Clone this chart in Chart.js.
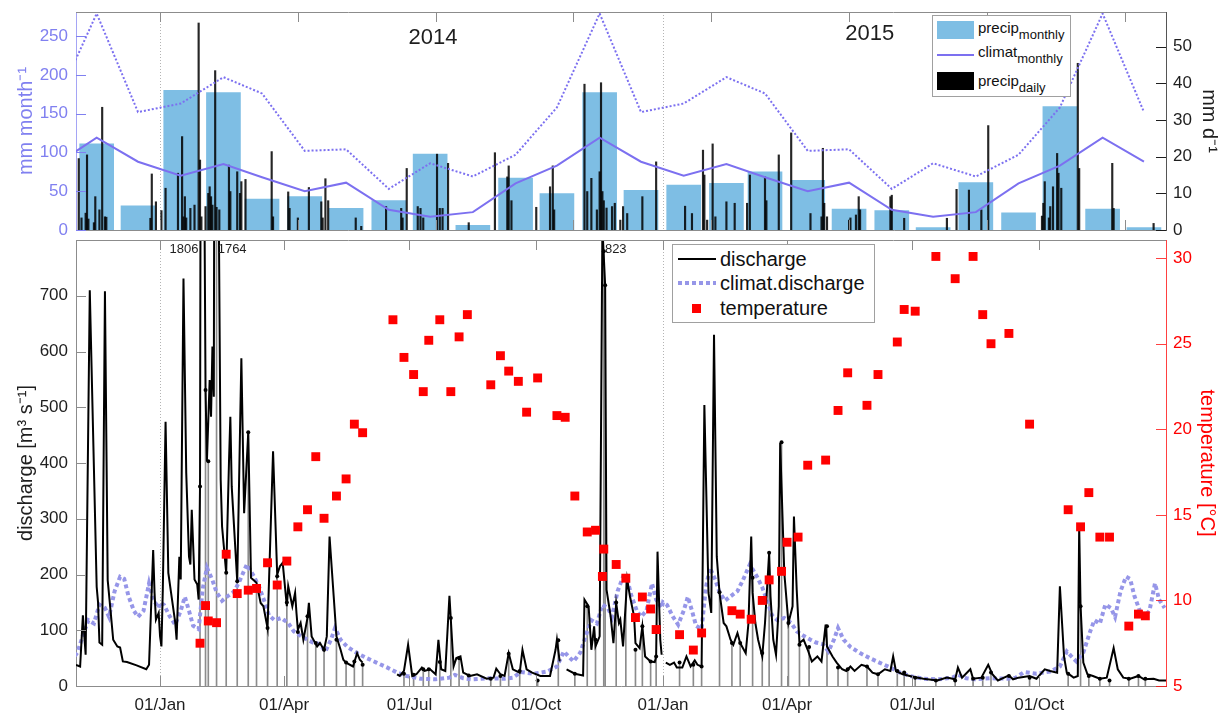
<!DOCTYPE html>
<html>
<head>
<meta charset="utf-8">
<script src="https://cdn.jsdelivr.net/npm/chart.js@4.4.1/dist/chart.umd.min.js"></script>
<style>
  body { margin: 0; background: #fff; font-family: "Liberation Sans", Arial, Helvetica, sans-serif; }
  #page { position: relative; width: 1224px; height: 713px; overflow: hidden; }
  canvas { position: absolute; left: 0; }
  .legend { position: absolute; background: #fff; border: 1px solid #a0a0a0; box-sizing: border-box; color: #111; }
  .legend .sw { position: absolute; display: block; }
  .legend .tx { position: absolute; white-space: nowrap; }
  #precipLegend .tx { font-size: 15px; line-height: 15px; left: 45px; }
  #precipLegend sub { font-size: 13px; vertical-align: -6px; line-height: 0; }
  #flowLegend .tx { font-size: 20px; line-height: 20px; left: 47px; }
</style>
</head>
<body>
<div id="page">
  <canvas id="precipChart" width="1224" height="245" style="top:0"></canvas>
  <canvas id="flowChart" width="1224" height="485" style="top:228px"></canvas>

  <div class="legend" id="precipLegend" style="left:932px;top:15px;width:139px;height:82px">
    <span class="sw" style="left:4px;top:5px;width:37px;height:18px;background:rgb(126,190,228)"></span>
    <span class="sw" style="left:4px;top:38px;width:37px;height:2px;background:rgb(124,112,240)"></span>
    <span class="sw" style="left:4px;top:56px;width:37px;height:18px;background:#000"></span>
    <div class="tx" style="top:4px">precip<sub>monthly</sub></div>
    <div class="tx" style="top:28px">climat<sub>monthly</sub></div>
    <div class="tx" style="top:57px">precip<sub>daily</sub></div>
  </div>

  <div class="legend" id="flowLegend" style="left:672px;top:244px;width:203px;height:79px">
    <span class="sw" style="left:5px;top:13px;width:38px;height:2px;background:#000"></span>
    <span class="sw" style="left:5px;top:36px;width:38px;height:4px;background:repeating-linear-gradient(90deg, rgb(150,150,232) 0 4px, transparent 4px 7px)"></span>
    <span class="sw" style="left:19px;top:59px;width:9px;height:9px;background:#ff0000"></span>
    <div class="tx" style="top:4px">discharge</div>
    <div class="tx" style="top:28px">climat.discharge</div>
    <div class="tx" style="top:53px">temperature</div>
  </div>
</div>

<script>
// days are counted from 01/Jan/2014
const dayOf = (y, m, d) => (Date.UTC(y, m, d) - Date.UTC(2014, 0, 1)) / 864e5;

// ---- top panel data ----
// monthly precipitation, Nov 2013 .. Dec 2015 (mm/month)
const precipMonthly = [111, 31, 180, 177, 40, 43, 28, 38, 98, 6, 67, 47, 177, 51,
                       58, 60, 75, 64, 27, 25, 3, 61, 22, 159, 27, 3];
// monthly climatology Jan..Dec (mean and upper line)
const climatMonthly = [70, 85, 68, 50, 61, 26, 17, 23, 60, 83, 119, 88];
const climatHigh = [163, 197, 176, 102, 104, 53, 86, 69, 97, 158, 279, 152];
// daily precipitation [day, mm/d] (days without rain left out)
const precipDaily = [
  [-59,19.5],[-57,3.3],[-54,4.6],[-53,20.5],[-52,3],[-48,2],[-47,9.1],[-44,5.5],[-42,33.5],[-40,3.6],[-39,3.5],
  [-7,3.2],[-6,15.3],[-3,7.7],[1,5.3],[4,11.4],[13,15.5],[16,25.5],[17,3.6],[18,9.1],[19,3.3],[22,5.9],[25,6.8],
  [28,56.5],[29,19.1],[30,3.6],[33,6.4],[35,10],[36,11.8],[37,9.1],[38,6.8],[40,43.5],[41,6.2],[43,5.5],[50,17.7],
  [51,10.5],[56,15.9],[58,10],[59,13.2],[62,13.8],[81,21.4],[82,3.6],[93,10.4],[94,5.9],[100,3.3],[108,11.6],
  [117,7.7],[118,3.3],[120,14],[122,8],[142,3.3],[146,1],[164,6.4],[175,5.9],[176,3.3],[179,16.8],[187,6.4],
  [189,5.9],[191,3.3],[201,20.7],[203,5.9],[205,5.9],[209,18.2],[224,2],[243,21.1],[252,14.5],[253,17.5],[255,8],
  [273,6.2],[283,11.8],[285,17.5],[286,5.5],[308,39.8],[310,10.5],[313,14.1],[317,5.5],[319,15.9],[320,40.2],
  [321,10.5],[322,8],[324,6],[328,6.4],[330,7.3],[334,2.7],[336,6.4],[339,4.5],[350,9.1],[360,18.6],[381,6.5],
  [386,4.5],[394,21.8],[395,15],[397,2.7],[401,23.5],[403,3.6],[411,7.7],[417,7.3],[426,7.3],[428,15],[439,14.5],
  [440,8],[449,20.5],[458,26.5],[472,4.5],[480,3.6],[481,22.3],[482,7.3],[484,3.6],[500,2.7],[501,3.3],[505,4.1],
  [507,9.1],[508,5.5],[530,9.1],[531,9.5],[540,3.2],[571,3.2],[578,11.1],[587,10.9],[596,5.5],[601,28.5],
  [640,3.8],[641,7.3],[642,13.2],[645,3.3],[646,6.4],[648,11.8],[651,20.9],[652,15.5],[654,11.4],[666,45.5],
  [667,16.8],[691,18.2],[692,5.9],[721,1.8]
];
const mmMonthTicks = [0, 50, 100, 150, 200, 250];
const mmDayTicks = [0, 10, 20, 30, 40, 50];
const precipXTicks = [0, 100, 200, 300, 400, 500, 600, 700];
const yearNames = ['2014', '2015'];
const yearNameDay = [198, 515];
const yearNameLevel = [247, 253];

// ---- bottom panel data ----
// daily discharge [day, m3/s]; null = missing record
const discharge = [
  [-61,38],[-58,35],[-56,127],[-54,56],[-51,710],[-46,178],[-45,150],[-44,78],[-42,74],[-40,708],[-38,190],
  [-36,137],[-34,83],[-31,71],[-29,69],[-27,44],[-24,43],[-17,37],[-10,30],[-8,38],[-5,244],[-4,167],[-3,119],
  [-1,131],[0,89],[1,71],[2,173],[4,474],[6,203],[8,167],[11,114],[12,83],[14,232],[15,191],[17,731],[19,382],
  [21,232],[22,218],[23,316],[25,191],[27,182],[28,155],[29,358],[30,1806],[33,531],[34,403],[36,549],[37,483],
  [38,609],[39,519],[40,1764],[44,370],[45,286],[48,203],[50,400],[51,483],[52,358],[56,188],[59,588],[61,310],
  [64,455],[66,194],[70,185],[73,149],[75,143],[78,104],[82,421],[85,200],[87,215],[89,221],[92,143],[93,179],
  [96,143],[98,167],[99,131],[100,101],[102,113],[104,83],[107,122],[108,149],[110,89],[114,71],[116,77],[119,65],
  [121,89],[123,268],[126,161],[128,89],[131,65],[133,47],[135,42],[140,35],[143,59],[145,47],[147,42],[160,null],
  [172,21],[174,18],[177,27],[180,74],[183,18],[186,21],[190,33],[192,27],[196,30],[200,21],[202,83],[204,30],
  [207,27],[210,162],[213,35],[215,50],[218,53],[220,24],[225,18],[230,21],[237,13],[242,15],[244,31],[247,21],
  [250,18],[253,59],[256,30],[261,24],[263,65],[266,30],[270,24],[276,18],[283,18],[287,65],[288,83],[290,44],
  [292,null],[295,30],[301,22],[307,19],[308,155],[311,143],[313,65],[315,107],[316,71],[319,89],[321,823],
  [323,719],[324,173],[327,125],[329,77],[331,149],[333,113],[334,119],[336,71],[339,191],[341,161],[344,125],
  [345,77],[348,68],[350,107],[352,53],[356,44],[359,43],[360,53],[361,241],[363,83],[364,56],[365,null],[367,42],
  [370,38],[373,42],[375,33],[379,33],[382,53],[385,35],[388,46],[390,38],[393,35],[395,504],[398,167],[400,131],
  [402,630],[404,232],[406,167],[409,113],[411,107],[414,83],[416,74],[419,95],[421,77],[425,59],[427,113],
  [429,268],[430,167],[432,113],[434,83],[437,53],[439,113],[442,239],[443,161],[445,83],[447,56],[449,143],
  [450,436],[453,203],[456,113],[459,143],[460,304],[462,173],[464,77],[467,83],[470,65],[473,44],[477,53],
  [480,44],[483,110],[484,71],[488,53],[491,42],[495,30],[498,27],[501,35],[504,27],[509,38],[513,35],[517,24],
  [521,21],[526,30],[530,27],[532,53],[534,27],[539,21],[547,16],[554,13],[564,10],[571,15],[577,12],[579,33],
  [582,15],[588,30],[590,13],[596,15],[601,38],[604,21],[608,10],[616,19],[619,12],[623,15],[631,18],[636,13],
  [642,30],[646,27],[651,24],[653,179],[656,53],[658,24],[663,15],[666,18],[667,286],[668,143],[670,42],[673,21],
  [677,18],[682,13],[687,15],[692,68],[695,30],[699,15],[704,13],[710,18],[714,12],[721,13],[725,10],[730,10]
];
// discharge climatology by day of year
const climatDoy = [0,3,7,11,15,18,21,24,28,31,34,38,41,45,49,54,58,63,68,72,76,79,83,88,93,97,102,107,111,116,
  120,124,127,131,136,143,150,157,165,172,179,189,200,210,214,220,226,238,250,256,262,271,281,288,293,296,300,
  305,310,313,317,321,325,328,332,336,339,342,346,349,353,357,360,364];
const climatQ = [150,145,125,110,135,160,135,108,102,175,212,190,168,153,161,170,190,218,197,177,150,127,118,122,
  113,98,90,83,78,75,62,83,104,83,70,59,50,42,33,24,18,13,12,15,20,14,12,14,13,15,25,22,26,35,62,54,44,60,98,
  118,112,146,140,124,170,196,192,162,135,124,135,184,155,140];
// sampling dates: discharge at sample and water temperature
const sampleDay = [29,33,35,41,48,56,64,70,78,85,92,100,107,113,119,128,135,141,147,177,184,191,195,203,211,217,
  224,240,247,253,261,274,289,301,310,316,322,323,331,338,345,350,356,360,377,387,393,406,415,421,430,437,442,
  451,456,464,471,484,492,499,513,521,535,540,548,563,577,590,597,603,616,631,659,668,674,682,689,703,710,715];
const sampleQ = [358,531,403,1500,203,188,455,175,104,197,150,97,125,77,65,83,42,44,38,22,20,30,30,43,122,50,
  19,13,18,58,27,10,82,22,143,83,780,719,150,197,65,107,44,53,42,38,35,168,77,77,194,59,239,437,113,74,70,107,
  33,30,35,21,27,24,15,10,10,13,15,24,18,15,22,143,18,13,10,13,18,13];
const tempDay = [29,33,35,41,48,56,64,70,78,85,92,100,107,113,119,128,135,141,147,169,177,184,191,195,203,211,
  217,223,240,247,253,260,266,274,288,294,301,310,316,321,322,331,338,345,350,356,360,377,387,393,415,421,429,
  437,442,451,455,463,470,483,492,499,513,521,535,540,548,563,577,590,597,603,616,631,659,668,674,682,689,703,
  710,715];
const tempVal = [7.5,9.7,8.8,8.7,12.7,10.4,10.6,10.7,12.2,10.9,12.3,14.3,15.3,18.4,14.8,16.1,17.1,20.3,19.8,26.4,
  24.2,23.2,22.2,25.2,26.4,22.2,25.4,26.7,22.6,24.3,23.4,22.8,21.0,23.0,20.8,20.7,16.1,14.0,14.1,11.4,13.0,12.1,
  11.3,9.0,10.2,9.5,8.3,8.0,7.1,8.1,9.4,9.2,8.9,10.0,11.2,11.7,13.4,13.7,17.9,18.2,21.1,23.3,21.4,23.2,25.1,27.0,
  26.9,30.1,28.8,30.1,26.7,25.0,25.6,20.3,15.3,14.3,16.3,13.7,13.7,8.5,9.2,9.1];
const quarterDays = [0, 90, 181, 273, 365, 455, 546, 638];
const quarterLabels = ['01/Jan', '01/Apr', '01/Jul', '01/Oct', '01/Jan', '01/Apr', '01/Jul', '01/Oct'];
const dischargeTicks = [0, 100, 200, 300, 400, 500, 600, 700];
const tempTicks = [5, 10, 15, 20, 25, 30];
const peakDays = [30, 40, 321];   // off-scale peaks, labelled with their value
const yearStarts = [0, 365];

// ---- build chart data ----
const months = [];   // Oct 2013 .. Dec 2015
for (let k = 0; k < 27; k++) months.push([2013 + Math.floor((9 + k) / 12), (9 + k) % 12]);
const midMonth = ([y, m]) => dayOf(y, m, 16);

const climatLine = months.map(mo => ({ x: midMonth(mo), y: climatMonthly[mo[1]] }));
const climatHighLine = months.map(mo => ({ x: midMonth(mo), y: climatHigh[mo[1]] }));
const monthlyBars = months.slice(1).map((mo, i) => ({ x: midMonth(mo), y: precipMonthly[i] }));
const dailyBars = precipDaily.map(([x, y]) => ({ x, y }));

const dischargePts = discharge.map(([x, y]) => ({ x, y }));
const climatQPts = [];
[-365, 0, 365].forEach(off => climatDoy.forEach((d, i) => {
  if (d + off >= -70 && d + off <= 740) climatQPts.push({ x: d + off, y: climatQ[i] });
}));
const samplePts = sampleDay.map((x, i) => ({ x, y: sampleQ[i] }));
const tempPts = tempDay.map((x, i) => ({ x, y: tempVal[i] }));
const peakText = peakDays.map(d => String(discharge.find(p => p[0] === d)[1]));

// ---- styling ----
const FONT = 'Liberation Sans, Arial, Helvetica, sans-serif';
const PURPLE = 'rgb(124,112,240)';
const AXIS_PURPLE = 'rgb(128,128,240)';
const GREY = '#8c8c8c';
const INK = '#1e1e1e';
const RED = '#ff0000';
Chart.defaults.font.family = FONT;

const setTicks = values => scale => { scale.ticks = values.map(v => ({ value: v })); };

// frame: year lines, top edge, inward tick marks, text labels
const frame = {
  id: 'frame',
  beforeDatasetsDraw(chart) {
    const { ctx, chartArea: a, scales: { x } } = chart;
    ctx.save();
    ctx.strokeStyle = '#b4b4b4';
    ctx.lineWidth = 1;
    ctx.setLineDash([1, 2]);
    yearStarts.forEach(d => {
      const px = Math.round(x.getPixelForValue(d)) + 0.5;
      ctx.beginPath(); ctx.moveTo(px, a.top); ctx.lineTo(px, a.bottom); ctx.stroke();
    });
    ctx.restore();
  },
  afterDatasetsDraw(chart, args, o) {
    const { ctx, chartArea: a, scales } = chart;
    const len = 10;
    ctx.save();
    ctx.lineWidth = 1;
    ctx.strokeStyle = GREY;
    ctx.beginPath(); ctx.moveTo(a.left, a.top + 0.5); ctx.lineTo(a.right, a.top + 0.5); ctx.stroke();
    scales.x.ticks.forEach(t => {
      const px = Math.round(scales.x.getPixelForValue(t.value)) + 0.5;
      ctx.beginPath();
      ctx.moveTo(px, a.top); ctx.lineTo(px, a.top + len);
      ctx.moveTo(px, a.bottom); ctx.lineTo(px, a.bottom - len);
      ctx.stroke();
    });
    o.sides.forEach(([id, color]) => {
      const s = scales[id];
      const x0 = s.position === 'left' ? a.left : a.right;
      const x1 = s.position === 'left' ? a.left + len : a.right - len;
      ctx.strokeStyle = color;
      s.ticks.forEach(t => {
        const py = Math.round(s.getPixelForValue(t.value)) + 0.5;
        ctx.beginPath(); ctx.moveTo(x0, py); ctx.lineTo(x1, py); ctx.stroke();
      });
    });
    ctx.fillStyle = INK;
    ctx.textBaseline = 'middle';
    (o.texts || []).forEach(t => {
      ctx.font = t.font;
      ctx.textAlign = t.align;
      const px = scales.x.getPixelForValue(t.x) + (t.dx || 0);
      const py = t.axis ? scales[t.axis].getPixelForValue(t.y) : a.top + t.y;
      ctx.fillText(t.text, px, py);
    });
    ctx.restore();
  }
};

// ---- top chart: precipitation ----
new Chart(document.getElementById('precipChart'), {
  type: 'line',
  data: {
    datasets: [
      { label: 'climat monthly', data: climatLine, yAxisID: 'yM', borderColor: PURPLE, borderWidth: 2,
        pointRadius: 0, order: 0 },
      { label: 'climat upper', data: climatHighLine, yAxisID: 'yM', borderColor: PURPLE, borderWidth: 2,
        borderDash: [2, 2], pointRadius: 0, order: 1 },
      { type: 'bar', label: 'precip daily', data: dailyBars, yAxisID: 'yD', backgroundColor: 'rgba(0,0,0,0.85)',
        barThickness: 1.5, grouped: false, order: 2 },
      { type: 'bar', label: 'precip monthly', data: monthlyBars, yAxisID: 'yM', backgroundColor: 'rgb(126,190,228)',
        barThickness: 34, grouped: false, order: 3 }
    ]
  },
  options: {
    responsive: false,
    animation: false,
    events: [],
    layout: { padding: { top: 12 } },
    plugins: {
      legend: { display: false },
      tooltip: { enabled: false },
      frame: {
        sides: [['yM', AXIS_PURPLE], ['yD', INK]],
        texts: yearNames.map((t, i) => ({ text: t, x: yearNameDay[i], y: yearNameLevel[i], axis: 'yM',
          font: '22px ' + FONT, align: 'center' }))
      }
    },
    scales: {
      x: {
        type: 'linear', min: -61, max: 730, offset: false,
        afterBuildTicks: setTicks(precipXTicks),
        afterFit: s => { s.height = 15; },
        ticks: { display: false },
        grid: { display: false, drawTicks: false },
        border: { color: GREY }
      },
      yM: {
        position: 'left', min: 0, max: 281,
        afterBuildTicks: setTicks(mmMonthTicks),
        afterFit: s => { s.width = 76; s.paddingTop = 0; s.paddingBottom = 0; },
        ticks: { color: AXIS_PURPLE, font: { size: 17 }, padding: 8 },
        grid: { display: false, drawTicks: false },
        border: { color: 'rgb(165,165,245)' },
        title: { display: true, text: 'mm month⁻¹', color: AXIS_PURPLE, font: { size: 20 }, padding: { top: 14, bottom: 0 } }
      },
      yD: {
        position: 'right', min: 0, max: 59.5,
        afterBuildTicks: setTicks(mmDayTicks),
        afterFit: s => { s.width = 58; s.paddingTop = 0; s.paddingBottom = 0; },
        ticks: { color: INK, font: { size: 17 }, padding: 7 },
        grid: { display: false, drawTicks: false },
        border: { color: '#555' },
        title: { display: true, text: 'mm d⁻¹', color: INK, font: { size: 20 }, padding: { top: 3, bottom: 0 } }
      }
    }
  },
  plugins: [frame]
});

// ---- bottom chart: discharge and temperature ----
new Chart(document.getElementById('flowChart'), {
  type: 'line',
  data: {
    datasets: [
      { label: 'temperature', data: tempPts, yAxisID: 'yT', showLine: false, pointStyle: 'rect',
        pointRadius: 6.3, pointBackgroundColor: RED, pointBorderWidth: 0, order: 0 },
      { label: 'sample', data: samplePts, yAxisID: 'yQ', showLine: false, pointRadius: 2,
        pointBackgroundColor: '#000', pointBorderWidth: 0, order: 1 },
      { label: 'discharge', data: dischargePts, yAxisID: 'yQ', borderColor: '#000', borderWidth: 2,
        pointRadius: 0, spanGaps: false, order: 2 },
      { label: 'climat.discharge', data: climatQPts, yAxisID: 'yQ', borderColor: 'rgb(150,150,232)',
        borderWidth: 4, borderDash: [4, 3], pointRadius: 0, order: 3 },
      { type: 'bar', label: 'sample stems', data: samplePts, yAxisID: 'yQ', backgroundColor: GREY,
        barThickness: 1, grouped: false, order: 4 }
    ]
  },
  options: {
    responsive: false,
    animation: false,
    events: [],
    layout: { padding: { top: 12 } },
    plugins: {
      legend: { display: false },
      tooltip: { enabled: false },
      frame: {
        sides: [['yQ', GREY], ['yT', 'rgba(255,0,0,0.75)']],
        texts: peakDays.map((d, i) => ({ text: peakText[i], x: d, y: 9, font: '13px ' + FONT,
          align: i === 0 ? 'right' : 'left', dx: i === 0 ? -3 : 2.5 }))
      }
    },
    scales: {
      x: {
        type: 'linear', min: -61, max: 730, offset: false,
        afterBuildTicks: setTicks(quarterDays),
        afterFit: s => { s.height = 27; },
        ticks: { color: INK, font: { size: 17 }, padding: 9, maxRotation: 0, autoSkip: false,
          callback: (v, i) => quarterLabels[i] },
        grid: { display: false, drawTicks: false },
        border: { color: GREY }
      },
      yQ: {
        position: 'left', min: 0, max: 800,
        afterBuildTicks: setTicks(dischargeTicks),
        afterFit: s => { s.width = 76; s.paddingTop = 0; s.paddingBottom = 0; },
        ticks: { color: INK, font: { size: 17 }, padding: 8 },
        grid: { display: false, drawTicks: false },
        border: { color: GREY },
        title: { display: true, text: 'discharge [m³ s⁻¹]', color: INK, font: { size: 20 }, padding: { top: 14, bottom: 0 } }
      },
      yT: {
        position: 'right', min: 5, max: 31.06,
        afterBuildTicks: setTicks(tempTicks),
        afterFit: s => { s.width = 58; s.paddingTop = 0; s.paddingBottom = 0; },
        ticks: { color: RED, font: { size: 17 }, padding: 7 },
        grid: { display: false, drawTicks: false },
        border: { color: 'rgba(255,0,0,0.75)' },
        title: { display: true, text: 'temperature [°C]', color: RED, font: { size: 20 }, padding: { top: 5, bottom: 0 } }
      }
    }
  },
  plugins: [frame]
});
</script>
</body>
</html>
